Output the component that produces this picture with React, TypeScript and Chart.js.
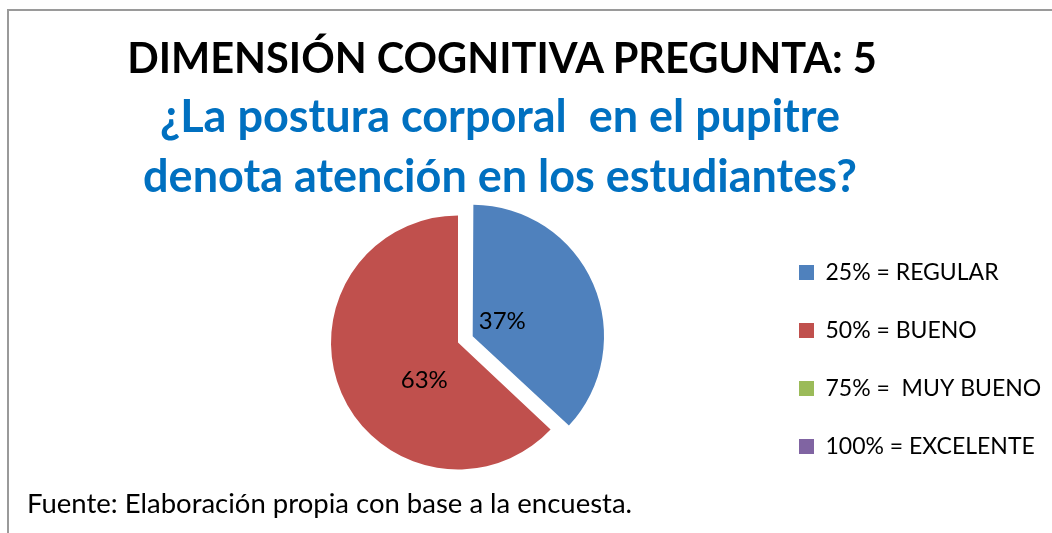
import { useEffect, useRef } from "react";
import { Chart, registerables } from "chart.js";

Chart.register(...registerables);

// ---- data ----
const titleText = "DIMENSIÓN COGNITIVA PREGUNTA: 5";
const subtitleLines = ["¿La postura corporal  en el pupitre", "denota atención en los estudiantes?"];
const sourceNote = "Fuente: Elaboración propia con base a la encuesta.";
const categories = ["25% = REGULAR", "50% = BUENO", "75% =  MUY BUENO", "100% = EXCELENTE"];
const values = [37, 63, 0, 0];

// ---- style ----
const sliceColors = ["#4F81BD", "#C0504D", "#9BBB59", "#8064A2"];
const explodeOffsets = [64, 0, 0, 0];
const labelRadiusFrac = [0.26, 0.4, 0.5, 0.5];
const labelAngleShiftDeg = [-3, -25, 0, 0];
const FONT = "Lato, 'Open Sans', sans-serif";
const W = 1052;
const H = 533;
const LEGEND_SIZE = 23;
const LEGEND_PAD = 35;
const BOX = 15;
const LEGEND_X = 799;
const PIE_CX = 458;
const PIE_R = 127;

const sliceLabels = {
  id: "sliceLabels",
  afterDatasetsDraw(chart: any) {
    const ctx = chart.ctx;
    const meta = chart.getDatasetMeta(0);
    const data = chart.data.datasets[0].data as number[];
    const total = data.reduce((a: number, b: number) => a + b, 0);
    ctx.save();
    ctx.font = `24px ${FONT}`;
    ctx.fillStyle = "#000000";
    ctx.textAlign = "center";
    ctx.textBaseline = "middle";
    meta.data.forEach((arc: any, i: number) => {
      const v = data[i];
      if (!v) return;
      const p = arc.getProps(["x", "y", "startAngle", "endAngle", "outerRadius"], true);
      const mid = (p.startAngle + p.endAngle) / 2;
      const shift = (arc.options.offset || 0) / 4;
      const cx = p.x + Math.cos(mid) * shift;
      const cy = p.y + Math.sin(mid) * shift;
      const a = mid + (labelAngleShiftDeg[i] * Math.PI) / 180;
      const r = p.outerRadius * labelRadiusFrac[i];
      ctx.fillText(Math.round((v / total) * 100) + "%", cx + Math.cos(a) * r, cy + Math.sin(a) * r);
    });
    ctx.restore();
  },
};

export default function App() {
  const ref = useRef<HTMLCanvasElement>(null);

  useEffect(() => {
    document.body.style.margin = "0";
    const canvas = ref.current!;
    const chart = new Chart(canvas, {
      type: "pie",
      data: {
        labels: categories,
        datasets: [
          {
            data: values,
            backgroundColor: sliceColors,
            borderWidth: 0,
            offset: explodeOffsets,
            clip: false,
          } as any,
        ],
      },
      options: {
        responsive: false,
        animation: false,
        radius: PIE_R,
        layout: { padding: { top: 192, bottom: 40, left: 150, right: 20 } },
        plugins: {
          title: { display: false },
          tooltip: { enabled: false },
          legend: {
            display: true,
            position: "right",
            align: "end",
            labels: {
              boxWidth: BOX,
              boxHeight: BOX,
              padding: LEGEND_PAD,
              color: "#000000",
              font: { family: FONT, size: LEGEND_SIZE },
            },
          },
        },
      } as any,
      plugins: [sliceLabels],
    });

    // adjust padding so legend items start at LEGEND_X and pie is centred at PIE_CX
    const pad: any = (chart.options.layout as any).padding;
    for (let k = 0; k < 2; k++) {
      const lg: any = chart.legend;
      const hb = lg.legendHitBoxes && lg.legendHitBoxes[0];
      const itemX = hb ? hb.left : lg.left + LEGEND_PAD;
      pad.right = Math.max(0, pad.right + (itemX - LEGEND_X));
      chart.update();
      const area = chart.chartArea;
      const cx = (area.left + area.right) / 2;
      pad.left = pad.left + 2 * (PIE_CX - cx);
      chart.update();
    }

    return () => chart.destroy();
  }, []);

  return (
    <div style={{ position: "relative", width: W, height: H, overflow: "hidden", background: "#ffffff" }}>
      <div
        style={{
          position: "absolute",
          left: 7,
          top: 9,
          width: W + 20,
          height: H + 20,
          borderLeft: "2px solid #9a9a9a",
          borderTop: "2px solid #9a9a9a",
          boxSizing: "border-box",
        }}
      />
      <canvas ref={ref} width={W} height={H} style={{ position: "absolute", left: 0, top: 0, width: W, height: H }} />
      <div
        style={{
          position: "absolute",
          left: 2,
          top: 33,
          width: 1000,
          textAlign: "center",
          fontFamily: FONT,
          fontWeight: 700,
          fontSize: 41.5,
          lineHeight: "49px",
          color: "#000000",
          whiteSpace: "pre",
        }}
      >
        {titleText}
      </div>
      <div
        style={{
          position: "absolute",
          left: 0,
          top: 85,
          width: 1000,
          textAlign: "center",
          fontFamily: FONT,
          fontWeight: 700,
          fontSize: 45,
          lineHeight: "60px",
          color: "#0070C0",
          whiteSpace: "pre",
        }}
      >
        {subtitleLines.map((l, i) => (
          <div key={i}>{l}</div>
        ))}
      </div>
      <div
        style={{
          position: "absolute",
          left: 27,
          top: 486,
          fontFamily: FONT,
          fontSize: 27.5,
          lineHeight: "33px",
          color: "#000000",
          whiteSpace: "pre",
        }}
      >
        {sourceNote}
      </div>
    </div>
  );
}
